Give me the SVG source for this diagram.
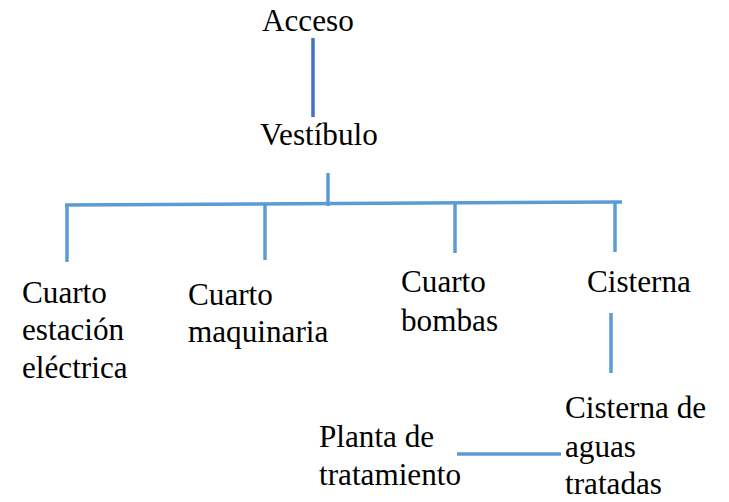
<svg xmlns="http://www.w3.org/2000/svg" width="729" height="502" viewBox="0 0 729 502">
<style>
.c{stroke:#5B9BD5;stroke-width:3.5;fill:none}
.d{stroke:#4472C4;stroke-width:3.5;fill:none}
</style>
<rect width="729" height="502" fill="#fff"/>
<g id="connectors">
<line class="d" x1="313" y1="38" x2="313" y2="117"/>
<line class="c" x1="328" y1="173" x2="328" y2="206"/>
<line class="c" x1="65" y1="205" x2="622" y2="202"/>
<line class="c" x1="67" y1="205" x2="67" y2="262"/>
<line class="c" x1="265" y1="204" x2="265" y2="260"/>
<line class="c" x1="455" y1="203" x2="455" y2="253"/>
<line class="c" x1="615" y1="201" x2="615" y2="252"/>
<line class="c" x1="611" y1="313" x2="611" y2="373"/>
<line class="c" x1="457" y1="454" x2="561" y2="454"/>
</g>
<g font-family="'Liberation Serif', 'Times New Roman', 'DejaVu Serif', serif" font-size="31.2" fill="#000">
<g id="acceso"><text x="262" y="31">Acceso</text></g>
<g id="vestibulo"><text x="260" y="145">Vestíbulo</text></g>
<g id="cuarto-estacion"><text x="22" y="303">Cuarto</text><text x="22" y="340">estación</text><text x="22" y="378">eléctrica</text></g>
<g id="cuarto-maquinaria"><text x="188" y="305">Cuarto</text><text x="188" y="342">maquinaria</text></g>
<g id="cuarto-bombas"><text x="401" y="292">Cuarto</text><text x="401" y="331">bombas</text></g>
<g id="cisterna"><text x="587" y="292">Cisterna</text></g>
<g id="cisterna-aguas"><text x="565" y="418">Cisterna de</text><text x="565" y="457">aguas</text><text x="565" y="494">tratadas</text></g>
<g id="planta"><text x="319" y="447">Planta de</text><text x="319" y="485">tratamiento</text></g>
</g>
</svg>
